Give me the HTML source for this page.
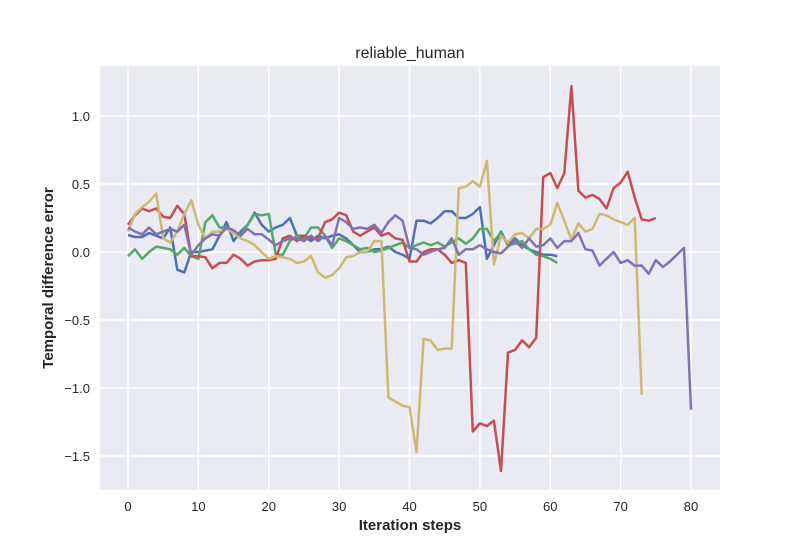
<!DOCTYPE html>
<html><head><meta charset="utf-8"><style>
body{margin:0;background:#fff;font-family:"Liberation Sans",sans-serif;}
</style></head><body>
<svg id="chart" width="800" height="550" xmlns="http://www.w3.org/2000/svg">
<rect x="0" y="0" width="800" height="550" fill="#fff"/>
<rect x="100" y="66" width="620" height="424" fill="#eaeaf2"/>
<g id="grid"></g><g id="series"></g><g id="ticks"></g>
<text x="410" y="58" text-anchor="middle" font-size="16" fill="#262626">reliable_human</text>
<text x="410" y="530" text-anchor="middle" font-size="15" font-weight="bold" fill="#262626">Iteration steps</text>
<text x="53" y="278" text-anchor="middle" font-size="15" font-weight="bold" fill="#262626" transform="rotate(-90 53 278)">Temporal difference error</text>
</svg>
<script>
const xTicks=[0,10,20,30,40,50,60,70,80];
const yTicks=[1.0,0.5,0.0,-0.5,-1.0,-1.5];
const yTickLabels=["1.0","0.5","0.0","\u22120.5","\u22121.0","\u22121.5"];
const seriesNames=["blue","green","red","yellow","purple"];
const seriesColors=["#4c72b0","#55a868","#c44e52","#ccb974","#8172b2"];
const blueValues=[0.125,0.11,0.11,0.14,0.12,0.10,0.18,-0.13,-0.15,0.0,0.0,0.01,0.02,0.12,0.22,0.08,0.15,0.2,0.29,0.2,0.15,0.18,0.2,0.25,0.12,0.12,0.08,0.12,0.1,0.12,0.13,0.1,0.05,0.0,0.0,0.02,0.02,0.04,0.0,-0.02,-0.05,0.23,0.23,0.21,0.25,0.3,0.3,0.25,0.25,0.28,0.33,-0.05,0.05,0.15,0.05,0.1,0.05,0.02,0.0,-0.02,-0.02,-0.03];
const greenValues=[-0.03,0.02,-0.05,0.0,0.04,0.03,0.02,-0.02,0.03,-0.03,-0.05,0.22,0.27,0.18,0.18,0.15,0.12,0.2,0.28,0.27,0.28,-0.02,-0.02,0.08,0.12,0.1,0.18,0.18,0.12,0.03,0.1,0.08,0.05,0.02,0.03,0.0,0.01,0.03,0.05,0.07,0.03,0.05,0.07,0.05,0.07,0.04,0.07,0.1,0.06,0.1,0.17,0.17,0.08,0.14,0.05,0.06,0.08,0.02,-0.02,-0.03,-0.05,-0.08];
const redValues=[0.2,0.27,0.32,0.3,0.32,0.26,0.25,0.34,0.28,-0.03,-0.03,-0.04,-0.12,-0.08,-0.08,-0.02,-0.05,-0.1,-0.07,-0.06,-0.06,-0.05,0.1,0.12,0.08,0.12,0.1,0.1,0.22,0.24,0.29,0.27,0.15,0.12,0.15,0.18,0.12,0.14,0.1,0.09,-0.07,-0.07,0.0,0.02,0.02,-0.02,-0.08,-0.06,-0.08,-1.32,-1.26,-1.28,-1.24,-1.61,-0.74,-0.72,-0.65,-0.7,-0.63,0.55,0.58,0.47,0.58,1.22,0.45,0.4,0.42,0.39,0.32,0.47,0.51,0.59,0.4,0.24,0.23,0.25];
const yellowValues=[0.15,0.28,0.33,0.37,0.43,0.1,0.07,0.15,0.28,0.38,0.2,0.1,0.15,0.15,0.17,0.14,0.1,0.08,0.05,0.0,-0.05,-0.03,-0.04,-0.05,-0.08,-0.07,-0.03,-0.15,-0.19,-0.17,-0.12,-0.04,-0.03,0.0,0.0,0.08,0.08,-1.07,-1.1,-1.13,-1.14,-1.47,-0.64,-0.65,-0.72,-0.71,-0.71,0.47,0.48,0.52,0.48,0.67,-0.09,0.12,0.07,0.13,0.14,0.1,0.17,0.17,0.2,0.36,0.23,0.09,0.21,0.15,0.17,0.28,0.27,0.24,0.22,0.2,0.25,-1.05];
const purpleValues=[0.18,0.15,0.13,0.18,0.13,0.15,0.17,0.15,0.2,-0.02,0.05,0.1,0.13,0.12,0.18,0.16,0.12,0.17,0.13,0.13,0.09,0.05,0.08,0.1,0.1,0.08,0.12,0.08,0.12,0.05,0.25,0.22,0.17,0.18,0.17,0.2,0.14,0.22,0.27,0.23,0.03,0.02,-0.02,0.0,0.02,0.03,0.1,-0.02,0.02,0.02,0.05,0.02,0.0,-0.01,0.04,0.08,0.03,0.1,0.04,0.05,0.1,0.03,0.08,0.08,0.14,0.02,0.01,-0.1,-0.05,0.0,-0.08,-0.06,-0.1,-0.1,-0.16,-0.06,-0.11,-0.07,-0.02,0.03,-1.16];
const allSeries=[blueValues,greenValues,redValues,yellowValues,purpleValues];

const NS="http://www.w3.org/2000/svg";
function xs(v){return 128+v*(691-128)/80;}
function ys(v){return 252-v*136;}
const grid=document.getElementById('grid'),ticks=document.getElementById('ticks'),ser=document.getElementById('series');
xTicks.forEach(t=>{
  const l=document.createElementNS(NS,'line');
  l.setAttribute('x1',xs(t));l.setAttribute('x2',xs(t));l.setAttribute('y1',66);l.setAttribute('y2',490);
  l.setAttribute('stroke','#fff');l.setAttribute('stroke-width','1.5');
  
  
  grid.appendChild(l);
  const tx=document.createElementNS(NS,'text');
  tx.setAttribute('x',xs(t));tx.setAttribute('y',511);tx.setAttribute('text-anchor','middle');
  tx.setAttribute('font-size','13');tx.setAttribute('fill','#262626');tx.textContent=t;
  
  
  ticks.appendChild(tx);
});
yTicks.forEach((t,i)=>{
  const l=document.createElementNS(NS,'line');
  l.setAttribute('x1',100);l.setAttribute('x2',720);l.setAttribute('y1',ys(t));l.setAttribute('y2',ys(t));
  l.setAttribute('stroke','#fff');l.setAttribute('stroke-width','1.5');
  
  
  grid.appendChild(l);
  const tx=document.createElementNS(NS,'text');
  tx.setAttribute('x',90);tx.setAttribute('y',ys(t)+5);tx.setAttribute('text-anchor','end');
  tx.setAttribute('font-size','13');tx.setAttribute('fill','#262626');tx.textContent=yTickLabels[i];
  
  
  ticks.appendChild(tx);
});
allSeries.forEach((vals,si)=>{
  const p=document.createElementNS(NS,'polyline');
  p.setAttribute('points',vals.map((v,i)=>xs(i).toFixed(1)+','+ys(v).toFixed(1)).join(' '));
  p.setAttribute('fill','none');p.setAttribute('stroke',seriesColors[si]);p.setAttribute('stroke-width','2.5');
  p.setAttribute('stroke-linejoin','round');
  
  
  ser.appendChild(p);
});
</script>
</body></html>
